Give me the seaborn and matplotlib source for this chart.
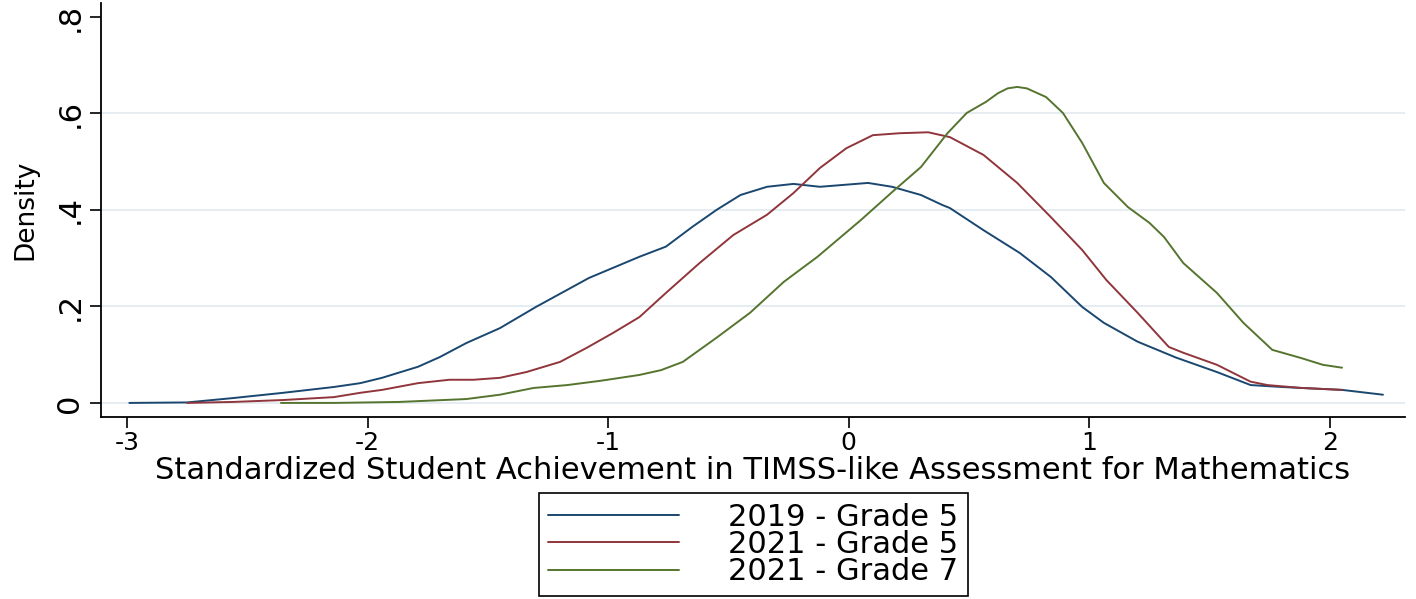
import pandas as pd
import matplotlib.pyplot as plt
import seaborn as sns

# Valores (densidad kernel)
x_2019_g5 = [-2.99, -2.75, -2.56, -2.35, -2.14, -2.03, -1.94, -1.79, -1.70, -1.59, -1.45, -1.30,
             -1.08, -0.87, -0.76, -0.65, -0.55, -0.45, -0.34, -0.23, -0.12, 0.08, 0.18, 0.30,
             0.39, 0.42, 0.56, 0.71, 0.84, 0.97, 1.06, 1.20, 1.36, 1.53, 1.67, 1.80, 2.05, 2.22]
y_2019_g5 = [0.000, 0.001, 0.010, 0.021, 0.033, 0.041, 0.052, 0.075, 0.095, 0.124, 0.155, 0.199,
             0.259, 0.303, 0.324, 0.365, 0.400, 0.431, 0.448, 0.454, 0.448, 0.456, 0.448, 0.431,
             0.410, 0.404, 0.358, 0.311, 0.261, 0.199, 0.166, 0.127, 0.094, 0.064, 0.037, 0.033, 0.027, 0.017]

x_2021_g5 = [-2.75, -2.56, -2.35, -2.14, -2.03, -1.94, -1.79, -1.66, -1.56, -1.45, -1.34, -1.20,
             -1.09, -0.98, -0.87, -0.76, -0.62, -0.48, -0.34, -0.23, -0.12, -0.01, 0.10, 0.21,
             0.33, 0.42, 0.56, 0.70, 0.84, 0.97, 1.07, 1.20, 1.33, 1.39, 1.53, 1.67, 1.74, 1.88, 2.05]
y_2021_g5 = [0.000, 0.002, 0.006, 0.012, 0.021, 0.027, 0.041, 0.048, 0.048, 0.052, 0.064, 0.085,
             0.114, 0.145, 0.178, 0.228, 0.290, 0.348, 0.390, 0.435, 0.487, 0.528, 0.555, 0.559,
             0.561, 0.551, 0.514, 0.456, 0.385, 0.317, 0.255, 0.187, 0.116, 0.104, 0.079, 0.044, 0.037, 0.031, 0.027]

x_2021_g7 = [-2.36, -2.14, -1.87, -1.59, -1.45, -1.31, -1.17, -1.03, -0.87, -0.78, -0.69, -0.55,
             -0.41, -0.27, -0.13, 0.05, 0.18, 0.30, 0.41, 0.49, 0.57, 0.62, 0.66, 0.70, 0.74, 0.82,
             0.89, 0.97, 1.06, 1.16, 1.25, 1.31, 1.39, 1.53, 1.64, 1.76, 1.88, 1.97, 2.05]
y_2021_g7 = [0.000, 0.000, 0.002, 0.008, 0.017, 0.031, 0.037, 0.046, 0.058, 0.068, 0.085, 0.135,
             0.187, 0.251, 0.303, 0.379, 0.437, 0.489, 0.559, 0.601, 0.624, 0.642, 0.652, 0.655, 0.652, 0.634,
             0.601, 0.539, 0.456, 0.406, 0.373, 0.344, 0.290, 0.228, 0.166, 0.110, 0.093, 0.079, 0.073]

grupos = ["2019 - Grade 5", "2021 - Grade 5", "2021 - Grade 7"]
colores = ["#1a476f", "#90353b", "#55752f"]

datos = pd.concat([
    pd.DataFrame({"x": x_2019_g5, "y": y_2019_g5, "grupo": grupos[0]}),
    pd.DataFrame({"x": x_2021_g5, "y": y_2021_g5, "grupo": grupos[1]}),
    pd.DataFrame({"x": x_2021_g7, "y": y_2021_g7, "grupo": grupos[2]}),
])

sns.set_style("white")
plt.rcParams['font.family'] = ['DejaVu Sans']
plt.rcParams['text.color'] = 'black'
plt.rcParams['axes.labelcolor'] = 'black'
plt.rcParams['xtick.color'] = 'black'
plt.rcParams['ytick.color'] = 'black'

fig = plt.figure(figsize=(14.16, 5.99), dpi=100)
ax = fig.add_axes([0.0713, 0.304, 0.921, 0.691])

sns.lineplot(data=datos, x="x", y="y", hue="grupo", palette=colores, sort=False,
             estimator=None, linewidth=1.4, ax=ax, legend=False)

ax.set_xlim(-3.108, 2.312)
ax.set_ylim(-0.029, 0.829)
ax.set_xticks([-3, -2, -1, 0, 1, 2])
ax.set_xticklabels(["-3", "-2", "-1", "0", "1", "2"], fontsize=18)
ax.set_yticks([0, 0.2, 0.4, 0.6, 0.8])
ax.set_yticklabels(["0", ".2", ".4", ".6", ".8"], fontsize=22, rotation=90, va="center")
ax.tick_params(axis='x', direction='out', length=8, width=1.2, color='black', pad=2, bottom=True)
ax.tick_params(axis='y', direction='out', length=8, width=1.2, color='black', pad=4, left=True)

ax.grid(axis='y', color='#e3ecf1', linewidth=1.3)
ax.get_ygridlines()[-1].set_visible(False)
ax.set_axisbelow(True)

sns.despine(ax=ax)
for lado in ['left', 'bottom']:
    ax.spines[lado].set_color('black')
    ax.spines[lado].set_linewidth(1.3)

ax.set_xlabel("Standardized Student Achievement in TIMSS-like Assessment for Mathematics",
              fontsize=22, labelpad=1)
ax.set_ylabel("Density", fontsize=19, labelpad=12)

manijas = [plt.Line2D([], [], color=c, linewidth=1.4) for c in colores]
fig.legend(manijas, grupos, loc='center', bbox_to_anchor=(0.532, 0.091), fontsize=22,
           frameon=True, fancybox=False, edgecolor='black', handlelength=4.3,
           labelspacing=-0.05, borderpad=0.3, handletextpad=1.6, borderaxespad=0, framealpha=1)
fig.legends[0].get_frame().set_linewidth(1.2)

fig.savefig("out.png", dpi=100)
